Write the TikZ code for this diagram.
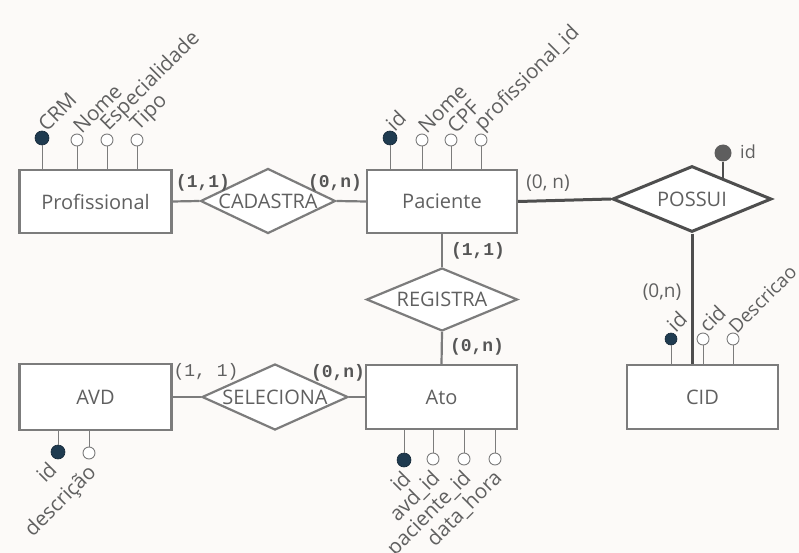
\documentclass[tikz,border=0pt]{standalone}
\usepackage{fontspec}
\setmainfont{Open Sans}
\newfontfamily\cardfont{Liberation Mono}
\usetikzlibrary{shapes.geometric}
\definecolor{bg}{HTML}{FCFAF8}
\definecolor{ink}{HTML}{606060}
\definecolor{edge}{HTML}{7C7C7C}
\definecolor{heavy}{HTML}{4E4E4E}
\definecolor{keyfill}{HTML}{1F3B50}
\definecolor{keygrey}{HTML}{5E5E5E}
\tikzset{
  entity/.style={draw=edge, line width=2.2pt, fill=white, text=ink,
    minimum width=152pt, minimum height=63pt, font=\fontsize{20}{22}\selectfont},
  rel/.style={diamond, draw=edge, line width=2.2pt, fill=white, inner sep=0pt,
    label={[text=ink, font=\fontsize{20}{22}\selectfont]center:#1}},
  conn/.style={draw=edge, line width=2.2pt},
  heavyconn/.style={draw=heavy, line width=3pt},
  pk/.style={circle, fill=keyfill, draw=keyfill!70!black, line width=0.6pt, minimum size=14pt, inner sep=0pt},
  attr/.style={circle, fill=white, draw=edge, line width=0.9pt, minimum size=12pt, inner sep=0pt},
  stem/.style={draw=edge, line width=1pt},
  atext/.style={text=ink, font=\fontsize{20.5}{22}\selectfont, inner sep=0pt, rotate=45},
  up/.style={atext, anchor=south west},
  down/.style={atext, anchor=north east},
  card/.style={text=ink!90!black, font=\cardfont\bfseries\fontsize{18}{20}\selectfont, inner sep=0pt},
  cardlite/.style={text=ink, font=\cardfont\fontsize{18}{20}\selectfont, inner sep=0pt},
  cardsans/.style={text=ink, font=\fontsize{19}{20}\selectfont, inner sep=0pt},
}
\begin{document}
\begin{tikzpicture}[x=1pt, y=-1pt]
\fill[bg] (0,0) rectangle (799,553);
\useasboundingbox (0,0) rectangle (799,553);

% entities
\node[entity] (prof) at (95.5,201.5) {Profissional};
\node[entity, minimum width=150pt] (pac) at (442,201.5) {Paciente};
\node[entity, minimum height=66pt] (avd) at (95.5,397) {AVD};
\node[entity, minimum width=151pt, minimum height=64pt] (ato) at (441.5,397) {Ato};
\node[entity, minimum width=151pt, minimum height=64pt] (cid) at (702.5,397) {CID};

% relationships
\node[rel=CADASTRA, minimum width=135pt, minimum height=65pt] (cad) at (268,201) {};
\node[rel=POSSUI, minimum width=159pt, minimum height=66pt, draw=heavy, line width=3pt] (pos) at (692,199) {};
\node[rel=REGISTRA, minimum width=151pt, minimum height=63pt] (reg) at (442,299.5) {};
\node[rel=SELECIONA, minimum width=146pt, minimum height=66pt] (sel) at (275,397) {};

% connectors
\draw[conn] (prof.east) -- (cad.west);
\draw[conn] (cad.east) -- (pac.west);
\draw[heavyconn] (pac.east) -- (pos.west);
\draw[heavyconn] (pos.south) -- (pos.south |- cid.north);
\draw[conn] (pac.south) -- (reg.north);
\draw[conn] (reg.south) -- (ato.north);
\draw[conn] (avd.east) -- (sel.west);
\draw[conn] (sel.east) -- (ato.west);

% cardinalities
\node[card] (c1) at (203,183) {(1,1)};
\node[card] (c2) at (335,183) {(0,n)};
\node[cardsans] (c3) at (548,183) {(0, n)};
\node[card] (c4) at (478,251) {(1,1)};
\node[card] (c5) at (477,347) {(0,n)};
\node[cardlite] (c6) at (206,372) {(1, 1)};
\node[card] (c7) at (338,373) {(0,n)};
\node[cardsans] (c8) at (662,292) {(0,n)};

% Profissional attributes
\node[pk] (pr1) at (42,138) {};
\node[attr] (pr2) at (77,140) {};
\node[attr] (pr3) at (107,140) {};
\node[attr] (pr4) at (137,140) {};
\foreach \a in {pr1,pr2,pr3,pr4} \draw[stem] (\a) -- (\a |- prof.north);
\node[up] (tpr1) at ([shift={(5,-5)}]pr1.center) {CRM};
\node[up] (tpr2) at ([shift={(5,-5)}]pr2.center) {Nome};
\node[up] (tpr3) at ([shift={(5,-5)}]pr3.center) {Especialidade};
\node[up] (tpr4) at ([shift={(5,-5)}]pr4.center) {Tipo};

% Paciente attributes
\node[pk] (pa1) at (390,138) {};
\node[attr] (pa2) at (422,140) {};
\node[attr] (pa3) at (451,140) {};
\node[attr] (pa4) at (481,140) {};
\foreach \a in {pa1,pa2,pa3,pa4} \draw[stem] (\a) -- (\a |- pac.north);
\node[up] (tpa1) at ([shift={(5,-5)}]pa1.center) {id};
\node[up] (tpa2) at ([shift={(5,-5)}]pa2.center) {Nome};
\node[up] (tpa3) at ([shift={(5,-5)}]pa3.center) {CPF};
\node[up] (tpa4) at ([shift={(5,-5)}]pa4.center) {profissional\_id};

% POSSUI attribute
\node[circle, fill=keygrey, minimum size=17pt, inner sep=0pt] (po1) at (723,153) {};
\draw[stem, draw=heavy, line width=1.4pt] (po1) -- (723,180);
\node[text=ink, font=\fontsize{18}{20}\selectfont, anchor=west, inner sep=0pt] (tpo1) at (740,152) {id};

% CID attributes
\node[pk, minimum size=12pt] (ci1) at (671,339) {};
\node[attr] (ci2) at (703,339) {};
\node[attr] (ci3) at (733,339) {};
\foreach \a in {ci1,ci2,ci3} \draw[stem] (\a) -- (\a |- cid.north);
\node[up] (tci1) at ([shift={(5,-5)}]ci1.center) {id};
\node[up] (tci2) at ([shift={(5,-5)}]ci2.center) {cid};
\node[up, font=\fontsize{19}{20}\selectfont] (tci3) at ([shift={(4,-4)}]ci3.center) {Descricao};

% Ato attributes
\node[pk] (at1) at (404,460) {};
\node[attr] (at2) at (433,459) {};
\node[attr] (at3) at (464,459) {};
\node[attr] (at4) at (495,459) {};
\foreach \a in {at1,at2,at3,at4} \draw[stem] (\a) -- (\a |- ato.south);
\node[down] (tat1) at ([shift={(-3,9)}]at1.center) {id};
\node[down] (tat2) at ([shift={(-3,9)}]at2.center) {avd\_id};
\node[down] (tat3) at ([shift={(-3,9)}]at3.center) {paciente\_id};
\node[down] (tat4) at ([shift={(-3,9)}]at4.center) {data\_hora};

% AVD attributes
\node[pk] (av1) at (58,452) {};
\node[attr] (av2) at (89,453) {};
\foreach \a in {av1,av2} \draw[stem] (\a) -- (\a |- avd.south);
\node[down] (tav1) at ([shift={(-11,8)}]av1.center) {id};
\node[down] (tav2) at ([shift={(-3,9)}]av2.center) {descrição};
\end{tikzpicture}
\end{document}
